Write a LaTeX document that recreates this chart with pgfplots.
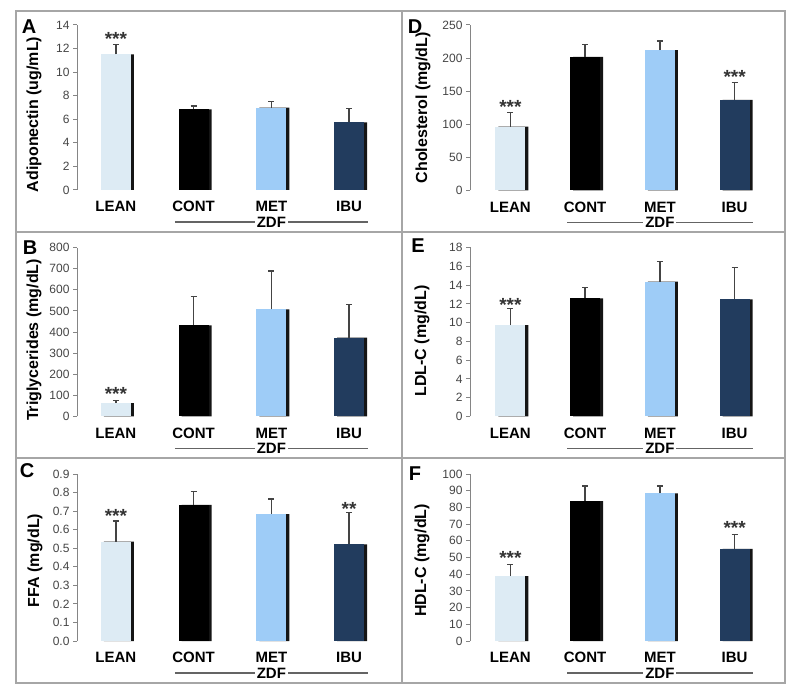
\documentclass[border=0pt]{standalone}
\usepackage{fontspec}
\setmainfont{Liberation Sans}
\usepackage{pgfplots}
\usepackage{pgfplotstable}
\pgfplotsset{compat=1.18}

\definecolor{leanc}{HTML}{DDEBF4}
\definecolor{contc}{HTML}{000000}
\definecolor{metc}{HTML}{9ECCF7}
\definecolor{ibuc}{HTML}{223C5E}
\definecolor{shadowc}{HTML}{151515}
\definecolor{framec}{HTML}{A6A6A6}
\definecolor{tickc}{HTML}{444444}

% one table per panel: x, mean, SD
\pgfplotstableread{
x y e
0 11.51 0.85
1 6.85 0.28
2 6.98 0.51
3 5.74 1.19
}\dataA
\pgfplotstableread{
x y e
0 63 13
1 431 138
2 507 182
3 373 158
}\dataB
\pgfplotstableread{
x y e
0 0.535 0.112
1 0.733 0.072
2 0.684 0.081
3 0.521 0.170
}\dataC
\pgfplotstableread{
x y e
0 96.6 21.1
1 202 19
2 212 14
3 137 26
}\dataD
\pgfplotstableread{
x y e
0 9.73 1.75
1 12.58 1.14
2 14.37 2.13
3 12.47 3.39
}\dataE
\pgfplotstableread{
x y e
0 38.9 7.0
1 83.8 9.0
2 88.4 4.4
3 55.1 8.8
}\dataF

\pgfplotsset{
  panel/.style={
    scale only axis, ymin=0, xmax=3.5,
    axis y line*=left, axis x line*=bottom,
    x axis line style={draw=none},
    y axis line style={draw=framec!80!black, line width=1pt},
    xtick={0,1,2,3}, xticklabels={LEAN,CONT,MET,IBU},
    major x tick style={draw=none},
    major y tick style={draw=framec!80!black, line width=1pt},
    tick align=outside, major tick length=4pt,
    xticklabel style={font=\bfseries\fontsize{15}{15}\selectfont, text=black,
      text height=11pt, text depth=0pt, yshift=-3pt},
    yticklabel style={font=\fontsize{12}{12}\selectfont, text=tickc},
    /pgf/number format/assume math mode=true,
    clip mode=individual,
  },
  ylab/.style 2 args={every axis y label/.style={at={([xshift=#1, yshift=#2]axis description cs:0,0.5)}, rotate=90, anchor=center,
    font=\bfseries\fontsize{16}{16}\selectfont}},
  leftpanel/.style={panel, xmin=-0.5, width=311pt},
  rightpanel/.style={panel, xmin=-0.54, width=302pt},
  barstyle/.style={ybar, bar width=30pt, bar shift=0pt, draw=none,
    error bars/y dir=plus, error bars/y explicit,
    error bars/error bar style={draw=tickc, line width=1.3pt},
    error bars/error mark options={rotate=90, mark size=3pt, line width=1.3pt, draw=tickc}},
  stars/.style={draw=none, mark=none, nodes near coords, point meta=explicit symbolic,
    nodes near coords style={anchor=center, yshift=-4pt, font=\bfseries\fontsize{19}{19}\selectfont, text=black!80}},
}

\newcommand{\drawbars}[1]{%
  \addplot[ybar, bar width=30pt, bar shift=3pt, fill=shadowc, draw=none] table[x=x,y=y] {#1};
  \addplot[barstyle, fill=leanc, restrict x to domain=-0.1:0.1] table[x=x,y=y,y error=e] {#1};
  \addplot[barstyle, fill=contc, restrict x to domain=0.9:1.1] table[x=x,y=y,y error=e] {#1};
  \addplot[barstyle, fill=metc, restrict x to domain=1.9:2.1] table[x=x,y=y,y error=e] {#1};
  \addplot[barstyle, fill=ibuc, restrict x to domain=2.9:3.1] table[x=x,y=y,y error=e] {#1};
  \draw[framec!60!black, line width=1.2pt] ([yshift=-32pt]axis cs:0.76,0) -- ([yshift=-32pt]axis cs:3.24,0);
  \node[fill=white, inner sep=2pt, font=\bfseries\fontsize{15}{15}\selectfont] at ([yshift=-32pt]axis cs:2,0) {ZDF};
}

\begin{document}
\begin{tikzpicture}[x=1pt,y=1pt]
\path (0,0) rectangle (798,697);

% panel frames
\draw[framec, line width=1.5pt] (16,14) rectangle (785,686);
\draw[framec, line width=1.5pt] (16,465) -- (785,465);
\draw[framec, line width=1.5pt] (16,239) -- (785,239);
\draw[framec, line width=1.5pt] (402,14) -- (402,686);

% A
\begin{axis}[leftpanel, ylab={-43pt}{-7pt}, at={(77pt,507pt)}, anchor=south west, height=165pt,
  ymax=14, ytick={0,2,...,14}, ylabel={Adiponectin (ug/mL)}]
\drawbars{\dataA}
\addplot[stars] table[x=x,y=y,meta=s] {
x y s
0 13.15 ***
};
\end{axis}

% D
\begin{axis}[rightpanel, ylab={-47pt}{0pt}, at={(470pt,506.5pt)}, anchor=south west, height=165.5pt,
  ymax=250, ytick={0,50,...,250}, ylabel={Cholesterol (mg/dL)}]
\drawbars{\dataD}
\addplot[stars] table[x=x,y=y,meta=s] {
x y s
0 132 ***
3 177 ***
};
\end{axis}

% B
\begin{axis}[leftpanel, ylab={-43pt}{-8pt}, at={(77pt,280.5pt)}, anchor=south west, height=169pt,
  ymax=800, ytick={0,100,...,800}, ylabel={Triglycerides (mg/dL)}]
\drawbars{\dataB}
\addplot[stars] table[x=x,y=y,meta=s] {
x y s
0 127 ***
};
\end{axis}

% E
\begin{axis}[rightpanel, ylab={-48pt}{-9pt}, at={(470pt,280.5pt)}, anchor=south west, height=169pt,
  ymax=18, ytick={0,2,...,18}, ylabel={LDL-C (mg/dL)}]
\drawbars{\dataE}
\addplot[stars] table[x=x,y=y,meta=s] {
x y s
0 12.35 ***
};
\end{axis}

% C
\begin{axis}[leftpanel, ylab={-42pt}{-3pt}, at={(77pt,56pt)}, anchor=south west, height=167pt,
  ymax=0.9, ytick={0,0.1,...,0.9},
  yticklabel style={/pgf/number format/.cd, fixed, fixed zerofill, precision=1},
  ylabel={FFA (mg/dL)}]
\drawbars{\dataC}
\addplot[stars] table[x=x,y=y,meta=s] {
x y s
0 0.695 ***
3 0.733 **
};
\end{axis}

% F
\begin{axis}[rightpanel, ylab={-48pt}{-3pt}, at={(470pt,56pt)}, anchor=south west, height=167pt,
  ymax=100, ytick={0,10,...,100}, ylabel={HDL-C (mg/dL)}]
\drawbars{\dataF}
\addplot[stars] table[x=x,y=y,meta=s] {
x y s
0 52 ***
3 70 ***
};
\end{axis}

% panel letters
\foreach \l/\px/\py in {A/29/670, D/415/670, B/30/449, E/418/451, C/27/226, F/415/223}
  \node[font=\bfseries\fontsize{20}{20}\selectfont] at (\px,\py) {\l};
\end{tikzpicture}
\end{document}
